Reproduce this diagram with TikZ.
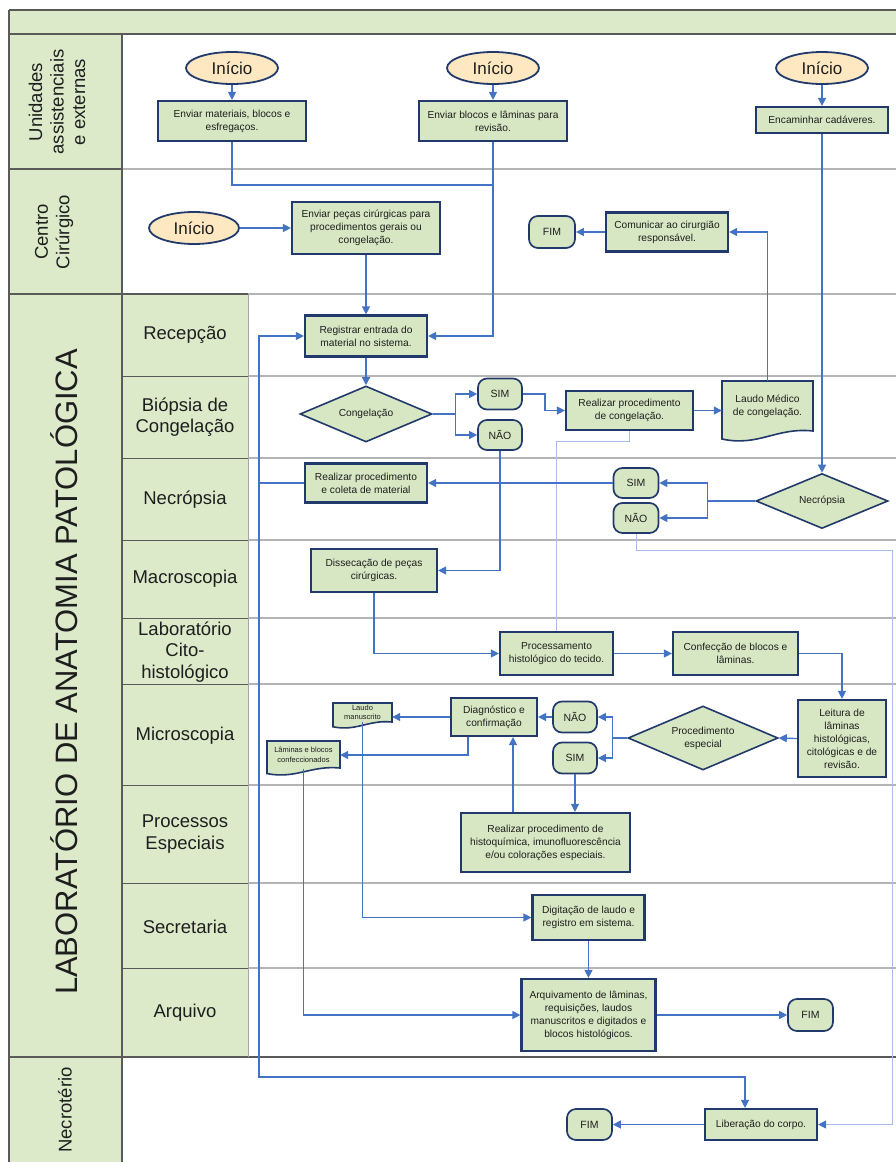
\documentclass[tikz,border=0pt]{standalone}
\usepackage{fontspec}
\setmainfont{Liberation Sans}
\usetikzlibrary{shapes.geometric,arrows.meta,calc}

\definecolor{lanegreen}{HTML}{DCEAC9}
\definecolor{boxgreen}{HTML}{D8E7C3}
\definecolor{boxblue}{HTML}{22396B}
\definecolor{startfill}{HTML}{FDE8C2}
\definecolor{arrowblue}{HTML}{4472C4}
\definecolor{lightarrow}{HTML}{A9BEE6}
\definecolor{gridgray}{HTML}{B4B4B4}
\definecolor{darkline}{HTML}{5A5A5A}
\definecolor{txt}{HTML}{1E1E1E}

\newcommand\myfs[2]{\fontsize{#1}{#2}\selectfont}
% document shape: x1,y1,x2,y2,amplitude
\newcommand\mydocshape[5]{%
  \filldraw[docsty] (#1,#2) -- (#3,#2) -- (#3,#4)
   .. controls ({#1+0.6*(#3-#1)},{#4-0.4*#5}) and ({#1+0.4*(#3-#1)},{#4+1.6*#5}) .. (#1,{#4+0.8*#5}) -- cycle;}

\tikzset{
  proc/.style={rectangle, draw=boxblue, line width=2.2pt, fill=boxgreen, align=center,
    text=txt, font=\myfs{10.2}{13}, inner sep=1pt},
  startnode/.style={ellipse, draw=boxblue, line width=1.8pt, fill=startfill,
    font=\myfs{17}{19}, text=txt, inner sep=0pt, minimum width=92pt, minimum height=32pt},
  termnode/.style={rectangle, rounded corners=9pt, draw=boxblue, line width=1.7pt,
    fill=boxgreen, font=\myfs{10.5}{12}, text=txt, minimum width=45pt,
    minimum height=31pt, inner sep=0pt},
  decision/.style={diamond, draw=boxblue, line width=1.6pt, fill=boxgreen,
    font=\myfs{10.2}{13}, align=center, text=txt, aspect=2.4, inner sep=1pt},
  docnode/.style={rectangle, draw=none, align=center, text=txt, inner sep=0pt},
  docsty/.style={draw=boxblue, line width=1.6pt, fill=boxgreen},
  conn/.style={draw=arrowblue, line width=1.3pt},
  arr/.style={conn, -{Triangle[length=8pt,width=8pt]}},
  lightconn/.style={draw=lightarrow, line width=1pt},
  lightarr/.style={lightconn, -{Triangle[length=8pt,width=8pt,color=arrowblue]}},
  lanelabel/.style={align=center, font=\myfs{18.5}{21.5}, text=txt, inner sep=0pt},
}

\begin{document}
\begin{tikzpicture}[x=1pt,y=-1pt]
\useasboundingbox (0,0) rectangle (896,1162);
\fill[white] (0,0) rectangle (896,1162);

% ---------- lanes ----------
\fill[lanegreen] (9,10) rectangle (896,34);
\fill[lanegreen] (9,34) rectangle (122,1162);
\fill[lanegreen] (122,294) rectangle (248,1057);

\foreach \yy in {376,458,540,618,684,785,883,968}{
  \draw[gridgray, line width=1.5pt] (248,\yy) -- (896,\yy);
  \draw[darkline, line width=1pt] (122,\yy) -- (248,\yy);
}
\draw[gridgray, line width=1.5pt] (122,169) -- (896,169);
\draw[darkline, line width=1.5pt] (9,169) -- (122,169);
\draw[gridgray, line width=1.5pt] (248,294) -- (896,294);
\draw[darkline, line width=1.5pt] (9,294) -- (248,294);
\draw[darkline, line width=1.5pt] (9,1057) -- (896,1057);
\draw[darkline, line width=1.8pt] (9,10) -- (896,10);
\draw[darkline, line width=1.8pt] (9,34) -- (896,34);
\draw[darkline, line width=1.5pt] (9,10) -- (9,1162);
\draw[darkline, line width=1.5pt] (122,34) -- (122,1162);
\draw[gray!70, line width=1pt] (248,294) -- (248,1057);

% ---------- lane labels ----------
\node[lanelabel, rotate=90] (lunid) at (57,102) {Unidades\\assistenciais\\e externas};
\node[lanelabel, rotate=90] (lcentro) at (54,232) {Centro\\Cirúrgico};
\node[lanelabel, rotate=90, font=\myfs{31}{34}] (llab) at (64,672) {LABORATÓRIO DE ANATOMIA PATOLÓGICA};
\node[lanelabel, rotate=90] (lnecro) at (65,1110) {Necrotério};
\node[lanelabel] (lrec) at (185,335) {Recepção};
\node[lanelabel] (lbio) at (185,417) {Biópsia de\\Congelação};
\node[lanelabel] (lnec) at (185,500) {Necrópsia};
\node[lanelabel] (lmac) at (185,579) {Macroscopia};
\node[lanelabel] (lcito) at (185,652) {Laboratório\\Cito-\\histológico};
\node[lanelabel] (lmic) at (185,736) {Microscopia};
\node[lanelabel] (lpro) at (185,834) {Processos\\Especiais};
\node[lanelabel] (lsec) at (185,927) {Secretaria};
\node[lanelabel] (larq) at (185,1013) {Arquivo};

% ---------- document shapes ----------
\mydocshape{722}{381}{813}{431}{10}
\mydocshape{333}{703}{392}{722}{6}
\mydocshape{267}{741}{340}{768}{7}

% ---------- nodes ----------
\node[startnode] (i1) at (232,68) {Início};
\node[startnode] (i2) at (493,68) {Início};
\node[startnode] (i3) at (822,68) {Início};
\node[startnode, minimum width=90pt] (ci) at (194,228) {Início};

\node[proc, minimum width=148pt, minimum height=40pt] (e1) at (232,121) {Enviar materiais, blocos e\\esfregaços.};
\node[proc, minimum width=148pt, minimum height=40pt] (e2) at (493,121) {Enviar blocos e lâminas para\\revisão.};
\node[proc, minimum width=132pt, minimum height=26pt] (e3) at (822,120) {Encaminhar cadáveres.};

\node[proc, minimum width=148pt, minimum height=52pt] (env) at (366,228) {Enviar peças cirúrgicas para\\procedimentos gerais ou\\congelação.};
\node[proc, minimum width=122pt, minimum height=39pt] (com) at (667,232) {Comunicar ao cirurgião\\responsável.};
\node[termnode, minimum width=46pt, minimum height=32pt] (fimc) at (552,232) {FIM};

\node[proc, minimum width=122pt, minimum height=41pt] (reg) at (366,336) {Registrar entrada do\\material no sistema.};

\node[decision, minimum width=132pt, minimum height=56pt] (cong) at (366,414) {Congelação};
\node[termnode, minimum width=44pt, minimum height=31pt] (simA) at (500,394) {SIM};
\node[termnode, minimum width=44pt, minimum height=30pt] (naoA) at (500,435) {NÃO};
\node[proc, minimum width=127pt, minimum height=39pt] (rcong) at (629.5,410.5) {Realizar procedimento\\de congelação.};
\node[docnode, minimum width=91pt, minimum height=50pt, font=\myfs{10.2}{13}] (laudoM) at (767.5,406) {Laudo Médico\\de congelação.};

\node[proc, minimum width=122pt, minimum height=39pt] (rproc) at (366,483) {Realizar procedimento\\e coleta de material};
\node[termnode, minimum width=45pt, minimum height=30pt] (simB) at (636,483) {SIM};
\node[termnode, minimum width=45pt, minimum height=30pt] (naoB) at (636,518) {NÃO};
\node[decision, minimum width=132pt, minimum height=55pt] (necD) at (822,501) {Necrópsia};

\node[proc, minimum width=126pt, minimum height=43pt] (diss) at (374,570.5) {Dissecação de peças\\cirúrgicas.};

\node[proc, minimum width=113pt, minimum height=43pt] (proc) at (556.5,653.5) {Processamento\\histológico do tecido.};
\node[proc, minimum width=125pt, minimum height=43pt] (conf) at (735.5,653.5) {Confecção de blocos e\\lâminas.};

\node[proc, minimum width=88pt, minimum height=77pt] (leit) at (842,738.5) {Leitura de\\lâminas\\histológicas,\\citológicas e de\\revisão.};
\node[decision, minimum width=150pt, minimum height=64pt] (procD) at (703,738) {Procedimento\\especial};
\node[termnode, minimum width=44pt, minimum height=31pt] (naoC) at (575,717) {NÃO};
\node[termnode, minimum width=44pt, minimum height=31pt] (simC) at (575,758) {SIM};
\node[proc, minimum width=86pt, minimum height=38pt] (diag) at (494,717) {Diagnóstico e\\confirmação};
\node[docnode, minimum width=59pt, minimum height=19pt, font=\myfs{7.5}{9}] (laudoS) at (362.5,712.5) {Laudo\\manuscrito};
\node[docnode, minimum width=73pt, minimum height=27pt, font=\myfs{7.5}{10}] (lam) at (303.5,755) {Lâminas e blocos\\confeccionados};

\node[proc, minimum width=169pt, minimum height=59pt] (hist) at (545.5,842.5) {Realizar procedimento de\\histoquímica, imunofluorescência\\e/ou colorações especiais.};
\node[proc, minimum width=112pt, minimum height=45pt] (dig) at (588.5,917.5) {Digitação de laudo e\\registro em sistema.};
\node[proc, minimum width=134pt, minimum height=72pt] (arq) at (588.5,1015) {Arquivamento de lâminas,\\requisições, laudos\\manuscritos e digitados e\\blocos histológicos.};
\node[termnode, minimum width=45pt, minimum height=32pt] (fimA) at (810.5,1015) {FIM};

\node[proc, minimum width=112pt, minimum height=31pt] (lib) at (761,1124.5) {Liberação do corpo.};
\node[termnode, minimum width=45pt, minimum height=31pt] (fimN) at (589.5,1124.5) {FIM};

% ---------- connectors ----------
\draw[arr] (i1.south) -- (e1.north);
\draw[arr] (i2.south) -- (e2.north);
\draw[arr] (i3.south) -- (e3.north);

\path ([yshift=-43pt]e1.south) coordinate (j0);
\coordinate (j1) at (j0 -| e2.south);
\draw[conn] (e1.south) -- (j0) -- (j1);
\draw[arr] (e2.south) |- (reg.east);

\draw[arr] (ci.east) -- (env.west);
\draw[arr] (env.south) -- (reg.north);
\draw[arr] (com.west) -- (fimc.east);
\draw[arr] (laudoM.north) |- (com.east);

\draw[arr] (reg.south) -- (cong.north);
\coordinate (s1) at ([xshift=23pt]cong.east);
\draw[conn] (cong.east) -- (s1);
\draw[arr] (s1) |- (simA.west);
\draw[arr] (s1) |- (naoA.west);
\draw[arr] (simA.east) -- ([xshift=22pt]simA.east) |- (rcong.west);
\draw[arr] (rcong.east) -- (rcong.east -| laudoM.west);
\draw[lightconn] (rcong.south) -- ([yshift=-10pt]rcong.south) -| (proc.north);
\draw[arr] (naoA.south) |- (diss.east);

\draw[arr] (e3.south) -- (necD.north);
\coordinate (s2) at ([xshift=-48pt]necD.west);
\draw[conn] (necD.west) -- (s2);
\draw[arr] (s2) |- (simB.east);
\draw[arr] (s2) |- (naoB.east);
\draw[arr] (simB.west) -- (rproc.east);
\coordinate (L) at ([xshift=-45pt]rproc.west);
\draw[arr] (rproc.west) -- (L) |- (reg.west);
\coordinate (libin) at ([xshift=-16pt]lib.north);
\draw[arr] (L) |- ([yshift=31pt]libin) -- (libin);
\coordinate (R1) at (892,550);
\draw[lightarr] (naoB.south) |- (R1) |- (lib.east);
\draw[arr] (lib.west) -- (fimN.east);

\draw[arr] (diss.south) |- (proc.west);
\draw[arr] (proc.east) -- (conf.west);
\draw[arr] (conf.east) -| (leit.north);
\draw[arr] (leit.west) -- (procD.east);
\coordinate (s3) at ([xshift=-15pt]procD.west);
\draw[conn] (procD.west) -- (s3);
\draw[arr] (s3) |- (naoC.east);
\draw[arr] (s3) |- (simC.east);
\draw[arr] (naoC.west) -- (naoC.west -| diag.east);
\draw[arr] (simC.south) -- (simC.south |- hist.north);
\coordinate (dg) at ([xshift=19pt]diag.south);
\draw[arr] (dg |- hist.north) -- (dg);
\draw[arr] (diag.west) -- (diag.west -| laudoS.east);
\draw[arr] ([xshift=-26pt]diag.south) |- (lam.east);
\draw[arr] (laudoS.south) |- (dig.west);
\draw[arr] (lam.south) |- (arq.west);
\draw[arr] (dig.south) -- (arq.north);
\draw[arr] (arq.east) -- (fimA.west);
\end{tikzpicture}
\end{document}
